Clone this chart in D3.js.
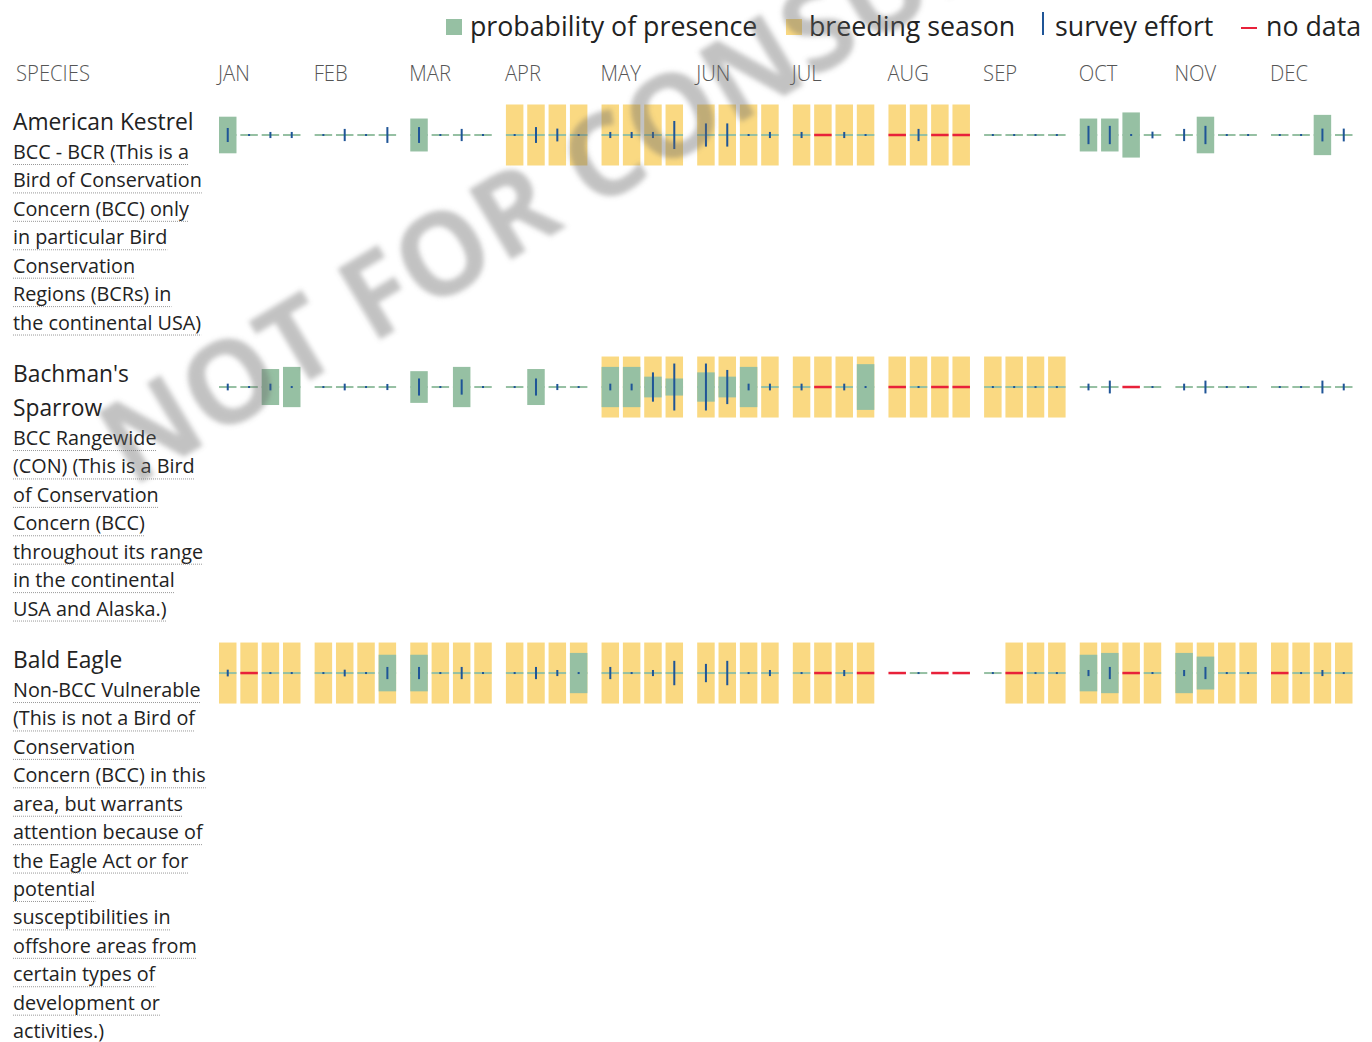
<!DOCTYPE html>
<meta charset="utf-8">
<style>
body { margin: 0; background: #fff; }
svg { display: block; font-family: "Open Sans", sans-serif; }
</style>
<svg width="1372" height="1042"></svg>
<script src="https://d3js.org/d3.v7.min.js"></script>
<script>

var months = ["JAN","FEB","MAR","APR","MAY","JUN","JUL","AUG","SEP","OCT","NOV","DEC"];

// American Kestrel
var kestrelName = ["American Kestrel"];
var kestrelDesc = ["BCC - BCR (This is a", "Bird of Conservation", "Concern (BCC) only",
  "in particular Bird", "Conservation", "Regions (BCRs) in", "the continental USA)"];
var kestrelBreeding = [0,0,0,0, 0,0,0,0, 0,0,0,0, 1,1,1,1, 1,1,1,1, 1,1,1,1, 1,1,1,1, 1,1,1,1, 0,0,0,0, 0,0,0,0, 0,0,0,0, 0,0,0,0];
var kestrelPresence = [0.6,0,0,0, 0,0,0,0, 0.54,0,0,0, 0,0,0,0, 0,0,0,0, 0,0,0,0, 0,0,0,0, 0,0,0,0, 0,0,0,0,
  0.54,0.54,0.74,0, 0,0.6,0,0, 0,0,0.66,0];
var kestrelEffort = [0.23,0.03,0.1,0.1, 0.03,0.2,0.03,0.26, 0.26,0.03,0.2,0.03, 0.03,0.26,0.21,0.03,
  0.1,0.1,0.1,0.46, 0.38,0.38,0.03,0.1, 0.1,null,0.1,0.03, null,0.2,null,null,
  0.03,0.03,0.03,0.03, 0.3,0.3,0.03,0.11, 0.2,0.3,0.03,0.03, 0.03,0.03,0.21,0.21];

// Bachman's Sparrow
var sparrowName = ["Bachman's", "Sparrow"];
var sparrowDesc = ["BCC Rangewide", "(CON) (This is a Bird", "of Conservation", "Concern (BCC)",
  "throughout its range", "in the continental", "USA and Alaska.)"];
var sparrowBreeding = [0,0,0,0, 0,0,0,0, 0,0,0,0, 0,0,0,0, 1,1,1,1, 1,1,1,1, 1,1,1,1, 1,1,1,1, 1,1,1,1, 0,0,0,0, 0,0,0,0, 0,0,0,0];
var sparrowPresence = [0,0,0.59,0.66, 0,0,0,0, 0.52,0,0.66,0, 0,0.59,0,0, 0.66,0.66,0.34,0.28,
  0.48,0.34,0.66,0, 0,0,0,0.75, 0,0,0,0, 0,0,0,0, 0,0,0,0, 0,0,0,0, 0,0,0,0];
var sparrowEffort = [0.11,0.03,0.11,0.03, 0.03,0.11,0.03,0.1, 0.28,0.03,0.25,0.03, 0.03,0.28,0.1,0.03,
  0.11,0.11,0.48,0.77, 0.77,0.56,0.11,0.11, 0.11,null,0.11,0.03, null,0.03,null,null,
  0.03,0.03,0.03,0.03, 0.11,0.21,null,0.03, 0.11,0.21,0.03,0.03, 0.03,0.03,0.21,0.11];

// Bald Eagle
var eagleName = ["Bald Eagle"];
var eagleDesc = ["Non-BCC Vulnerable", "(This is not a Bird of", "Conservation", "Concern (BCC) in this",
  "area, but warrants", "attention because of", "the Eagle Act or for", "potential",
  "susceptibilities in", "offshore areas from", "certain types of", "development or", "activities.)"];
var eagleBreeding = [1,1,1,1, 1,1,1,1, 1,1,1,1, 1,1,1,1, 1,1,1,1, 1,1,1,1, 1,1,1,1, 0,0,0,0, 0,1,1,1, 1,1,1,1, 1,1,1,1, 1,1,1,1];
var eaglePresence = [0,0,0,0, 0,0,0,0.6, 0.6,0,0,0, 0,0,0,0.66, 0,0,0,0, 0,0,0,0, 0,0,0,0, 0,0,0,0, 0,0,0,0,
  0.6,0.66,0,0, 0.66,0.54,0,0, 0,0,0,0];
var eagleEffort = [0.11,null,0.03,0.03, 0.03,0.11,0.03,0.2, 0.2,0.03,0.2,0.03, 0.03,0.2,0.1,0.03,
  0.2,0.03,0.1,0.4, 0.3,0.4,0.03,0.1, 0.03,null,0.1,null, null,0.03,null,null,
  0.03,null,0.03,0.03, 0.1,0.2,null,0.03, 0.1,0.2,0.03,0.03, null,0.03,0.1,0.03];

var legendLabels = ["probability of presence", "breeding season", "survey effort", "no data"];

var species = [
  {name: kestrelName, desc: kestrelDesc, breeding: kestrelBreeding, presence: kestrelPresence, effort: kestrelEffort},
  {name: sparrowName, desc: sparrowDesc, breeding: sparrowBreeding, presence: sparrowPresence, effort: sparrowEffort},
  {name: eagleName, desc: eagleDesc, breeding: eagleBreeding, presence: eaglePresence, effort: eagleEffort}
];

var colGreen = "#96c0a3", colYellow = "#fad982", colBlue = "#1f5597", colRed = "#e8213a";

var svg = d3.select("svg");

var x = d3.scaleBand().domain(months).range([219, 1352.5]).paddingInner(0.148).paddingOuter(0);
var xw = d3.scaleBand().domain([0,1,2,3]).range([0, x.bandwidth()]).paddingInner(0.18).paddingOuter(0);
var h = d3.scaleLinear().domain([0, 1]).range([0, 61]);

function squeeze(sel, k) {
  sel.each(function() {
    var len = this.getComputedTextLength();
    d3.select(this).attr("textLength", len * k).attr("lengthAdjust", "spacingAndGlyphs");
  });
}

// legend
var legend = svg.append("g").attr("class", "legend");
var legX = [470, 809, 1055, 1266];
legend.append("rect").attr("x", 446).attr("y", 19).attr("width", 16).attr("height", 16).attr("fill", colGreen);
legend.append("rect").attr("x", 786).attr("y", 19).attr("width", 16).attr("height", 16).attr("fill", colYellow);
legend.append("rect").attr("x", 1042).attr("y", 12).attr("width", 2).attr("height", 23).attr("fill", colBlue);
legend.append("rect").attr("x", 1241).attr("y", 27).attr("width", 16).attr("height", 2).attr("fill", colRed);
legend.selectAll("text.leg")
  .data(legendLabels)
  .enter().append("text")
  .attr("class", "leg")
  .attr("x", function(d, i) { return legX[i]; })
  .attr("y", 36)
  .attr("font-size", 28)
  .attr("fill", "#222")
  .text(function(d) { return d; })
  .call(squeeze, 0.955);

// header
svg.append("text").attr("x", 16).attr("y", 81).attr("font-size", 22).attr("font-weight", 300)
  .attr("fill", "#555").text("SPECIES").call(squeeze, 0.92);
svg.selectAll("text.month")
  .data(months)
  .enter().append("text")
  .attr("class", "month")
  .attr("x", function(d) { return x(d) - 1; })
  .attr("y", 81)
  .attr("font-size", 22)
  .attr("font-weight", 300)
  .attr("fill", "#555")
  .text(function(d) { return d; })
  .call(squeeze, 0.92);

// rows
var y = 130;
species.forEach(function(sp) {
  var g = svg.append("g");
  var c = y + 5;

  sp.name.forEach(function(line, i) {
    g.append("text").attr("x", 13).attr("y", y + i * 34).attr("font-size", 22.8)
      .attr("fill", "#222").text(line);
  });
  var dy = y + (sp.name.length - 1) * 34 + 29;
  sp.desc.forEach(function(line, i) {
    var t = g.append("text").attr("x", 13).attr("y", dy + i * 28.42).attr("font-size", 19.8)
      .attr("fill", "#222").text(line);
    var len = t.node().getComputedTextLength();
    g.append("line")
      .attr("x1", 13).attr("x2", 13 + len)
      .attr("y1", dy + i * 28.42 + 5.5).attr("y2", dy + i * 28.42 + 5.5)
      .attr("stroke", "#999").attr("stroke-width", 1).attr("stroke-dasharray", "1,1");
  });

  var weeks = d3.range(48).map(function(i) {
    return {m: months[Math.floor(i / 4)], w: i % 4, breeding: sp.breeding[i], p: sp.presence[i], e: sp.effort[i]};
  });
  var wk = g.selectAll("g.week")
    .data(weeks)
    .enter().append("g")
    .attr("class", "week")
    .attr("transform", function(d) { return "translate(" + (x(d.m) + xw(d.w)) + "," + c + ")"; });
  var bw = xw.bandwidth();

  wk.filter(function(d) { return d.breeding; })
    .append("rect")
    .attr("x", 0).attr("y", -h(1) / 2).attr("width", bw).attr("height", h(1))
    .attr("fill", colYellow);
  wk.filter(function(d) { return d.e !== null; })
    .append("rect")
    .attr("x", 0).attr("y", -1).attr("width", bw).attr("height", 2)
    .attr("fill", colGreen);
  wk.filter(function(d) { return d.p > 0; })
    .append("rect")
    .attr("x", 0).attr("y", function(d) { return -h(d.p) / 2; })
    .attr("width", bw).attr("height", function(d) { return h(d.p); })
    .attr("fill", colGreen);
  wk.filter(function(d) { return d.e === null; })
    .append("rect")
    .attr("x", 0).attr("y", -1.25).attr("width", bw).attr("height", 2.5)
    .attr("fill", colRed);
  wk.filter(function(d) { return d.e !== null; })
    .append("rect")
    .attr("x", bw / 2 - 1).attr("y", function(d) { return -Math.max(2, h(d.e)) / 2; })
    .attr("width", 2).attr("height", function(d) { return Math.max(2, h(d.e)); })
    .attr("fill", colBlue);

  y = dy + (sp.desc.length - 1) * 28.42 + 52.5;
});

// watermark
var defs = svg.append("defs");
defs.append("filter").attr("id", "blur").append("feGaussianBlur").attr("stdDeviation", 2.5);
svg.append("text")
  .attr("transform", "translate(132,488) rotate(-31)")
  .attr("font-size", 114)
  .attr("font-weight", 700)
  .attr("fill", "#666")
  .attr("fill-opacity", 0.4)
  .attr("filter", "url(#blur)")
  .text("NOT FOR CONSULTATION");

</script>
